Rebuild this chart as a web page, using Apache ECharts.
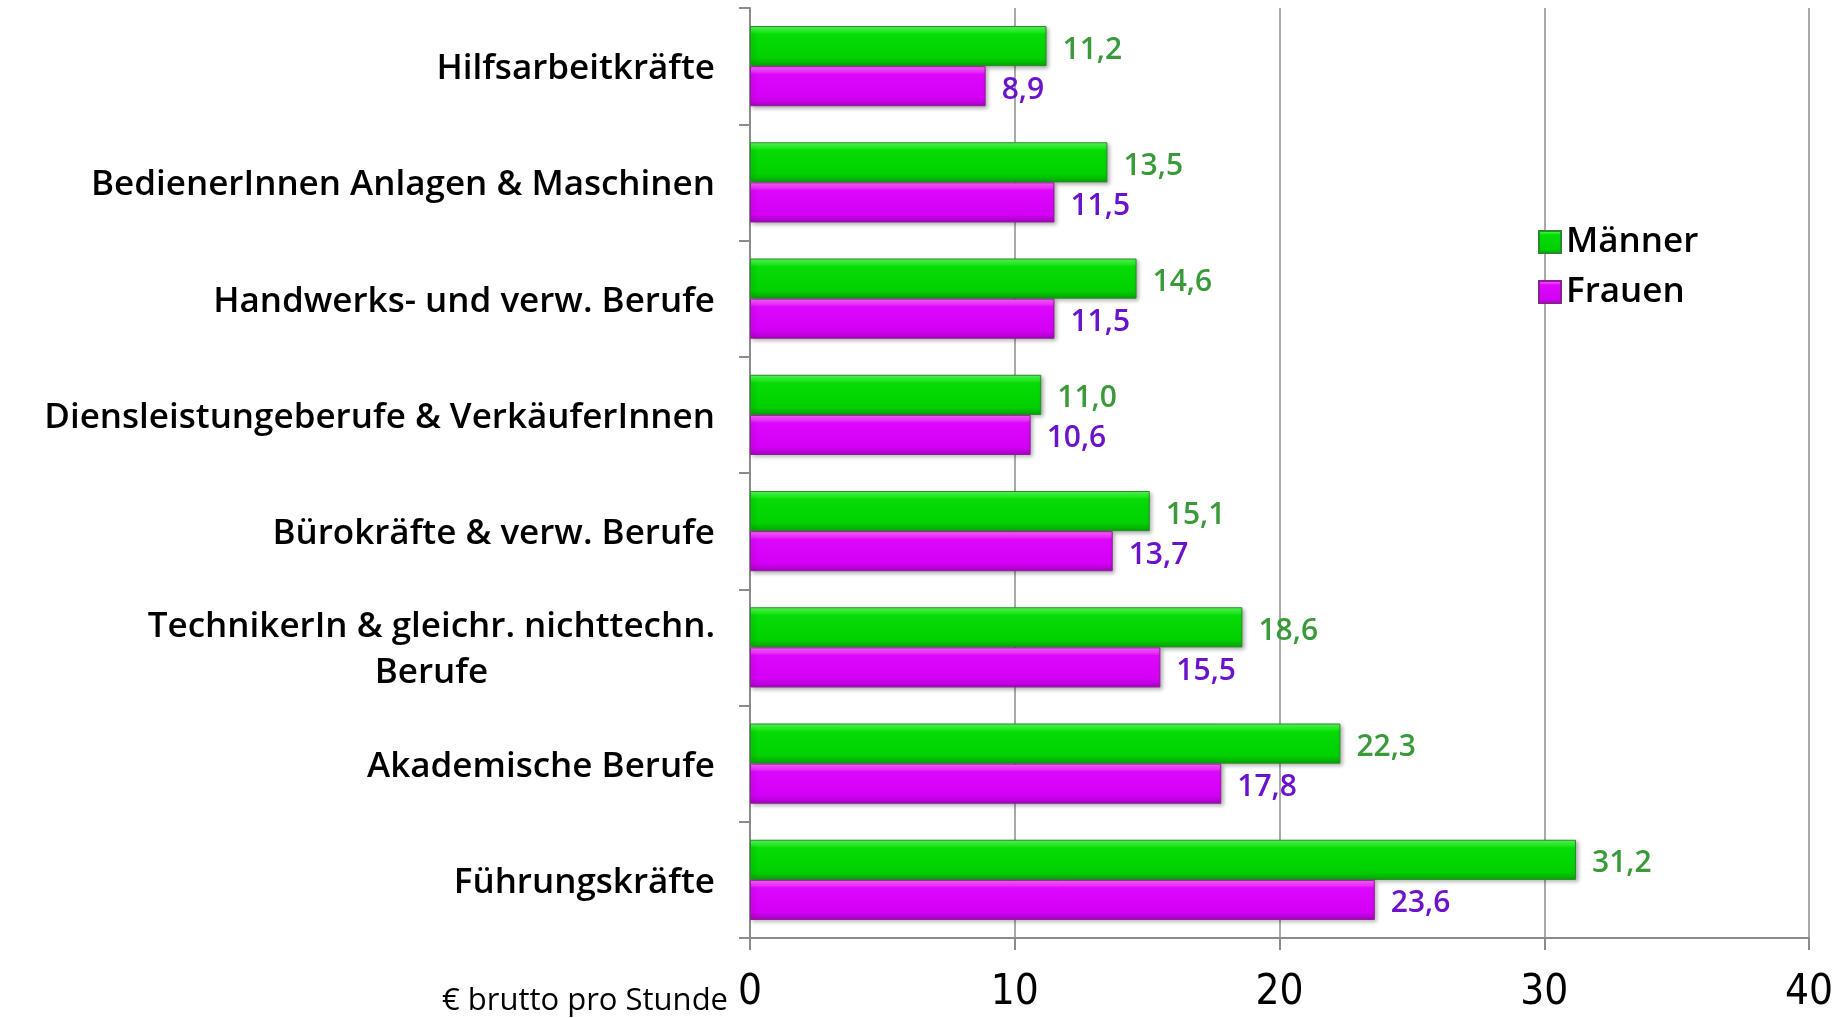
<!DOCTYPE html>
<html>
<head>
<meta charset="utf-8">
<script src="https://cdn.jsdelivr.net/npm/echarts@6/dist/echarts.min.js"></script>
<style>
  html, body { margin: 0; padding: 0; background: #fff; }
  #chart { width: 1846px; height: 1018px; }
</style>
</head>
<body>
<div id="chart"></div>
<script>
const categories = [
  'Hilfsarbeitkräfte',
  'BedienerInnen Anlagen & Maschinen',
  'Handwerks- und verw. Berufe',
  'Diensleistungeberufe & VerkäuferInnen',
  'Bürokräfte & verw. Berufe',
  'TechnikerIn & gleichr. nichttechn.\nBerufe',
  'Akademische Berufe',
  'Führungskräfte',
]
const maenner = [11.2, 13.5, 14.6, 11.0, 15.1, 18.6, 22.3, 31.2]
const frauen = [8.9, 11.5, 11.5, 10.6, 13.7, 15.5, 17.8, 23.6]
const seriesNames = ['Männer', 'Frauen']
const unitLabel = '€ brutto pro Stunde'

const myChart = echarts.init(document.getElementById('chart'))

const fmt = p => p.value.toFixed(1).replace('.', ',')

const greenFill = new echarts.graphic.LinearGradient(0, 0, 0, 1, [
  { offset: 0, color: '#5cff5c' },
  { offset: 0.14, color: '#22ee22' },
  { offset: 0.2, color: '#06dc06' },
  { offset: 0.8, color: '#02d002' },
  { offset: 1, color: '#00a800' },
])
const purpleFill = new echarts.graphic.LinearGradient(0, 0, 0, 1, [
  { offset: 0, color: '#ff66ff' },
  { offset: 0.14, color: '#f030ff' },
  { offset: 0.2, color: '#dc08fc' },
  { offset: 0.8, color: '#d400f6' },
  { offset: 1, color: '#a800c4' },
])
const gray = '#8c8c8c'
const catFont = {
  fontSize: 35,
  fontFamily: 'Open Sans',
  fontWeight: 600,
  color: '#000',
  lineHeight: 46,
}

const option = {
  animation: false,
  color: [greenFill, purpleFill],
  legend: {
    data: seriesNames,
    orient: 'vertical',
    left: 1533,
    top: 218,
    icon: 'rect',
    itemWidth: 22,
    itemHeight: 22,
    itemGap: 12,
    textStyle: {
      fontSize: 35,
      lineHeight: 34,
      fontFamily: 'Open Sans',
      fontWeight: 600,
      color: '#000',
      padding: [4, 0, 0, 0],
    },
  },
  graphic: [
    {
      type: 'text',
      right: 1118,
      top: 986,
      style: {
        text: unitLabel,
        fontSize: 31,
        fontFamily: 'Open Sans',
        fontWeight: 500,
        fill: '#000',
      },
    },
  ],
  grid: {
    left: 750,
    right: 37,
    top: 8,
    bottom: 80,
    containLabel: false,
  },
  xAxis: {
    type: 'value',
    min: 0,
    max: 40,
    interval: 10,
    axisLine: { show: true, lineStyle: { color: gray, width: 2 } },
    axisTick: { show: true, length: 12, lineStyle: { color: gray, width: 2 } },
    splitLine: { show: true, lineStyle: { color: gray, width: 1.5 } },
    axisLabel: {
      margin: 34,
      fontSize: 42,
      fontFamily: '"Liberation Sans Narrow", "DejaVu Sans Condensed", sans-serif',
      color: '#000',
    },
  },
  yAxis: {
    type: 'category',
    inverse: true,
    data: categories,
    axisLine: { show: true, lineStyle: { color: gray, width: 2 } },
    axisTick: { show: true, length: 11, lineStyle: { color: gray, width: 2 } },
    axisLabel: Object.assign({
      margin: 35,
      padding: [6, 0, 0, 0],
      formatter: v => v.split('\n').map(s => '{c|' + s + '}').join('\n'),
      rich: {
        c: Object.assign({ align: 'center' }, catFont),
      },
    }, catFont),
  },
  series: [
    {
      name: seriesNames[0],
      type: 'bar',
      data: maenner,
      barGap: '0%',
      barCategoryGap: '31%',
      itemStyle: {
        color: greenFill,
        borderColor: '#2a8a2a',
        borderWidth: 1,
        shadowColor: 'rgba(0,0,0,0.3)',
        shadowBlur: 4,
        shadowOffsetX: 2,
        shadowOffsetY: 2,
      },
      label: {
        show: true,
        position: 'right',
        distance: 16,
        offset: [0, 4],
        formatter: fmt,
        fontSize: 30,
        fontFamily: 'Open Sans',
        fontWeight: 600,
        color: '#3a9a3a',
      },
    },
    {
      name: seriesNames[1],
      type: 'bar',
      data: frauen,
      barGap: '0%',
      barCategoryGap: '31%',
      itemStyle: {
        color: purpleFill,
        borderColor: '#8a1f92',
        borderWidth: 1,
        shadowColor: 'rgba(0,0,0,0.3)',
        shadowBlur: 4,
        shadowOffsetX: 2,
        shadowOffsetY: 2,
      },
      label: {
        show: true,
        position: 'right',
        distance: 16,
        offset: [0, 4],
        formatter: fmt,
        fontSize: 30,
        fontFamily: 'Open Sans',
        fontWeight: 600,
        color: '#6a12cc',
      },
    },
  ],
}

myChart.setOption(option)
</script>
</body>
</html>
